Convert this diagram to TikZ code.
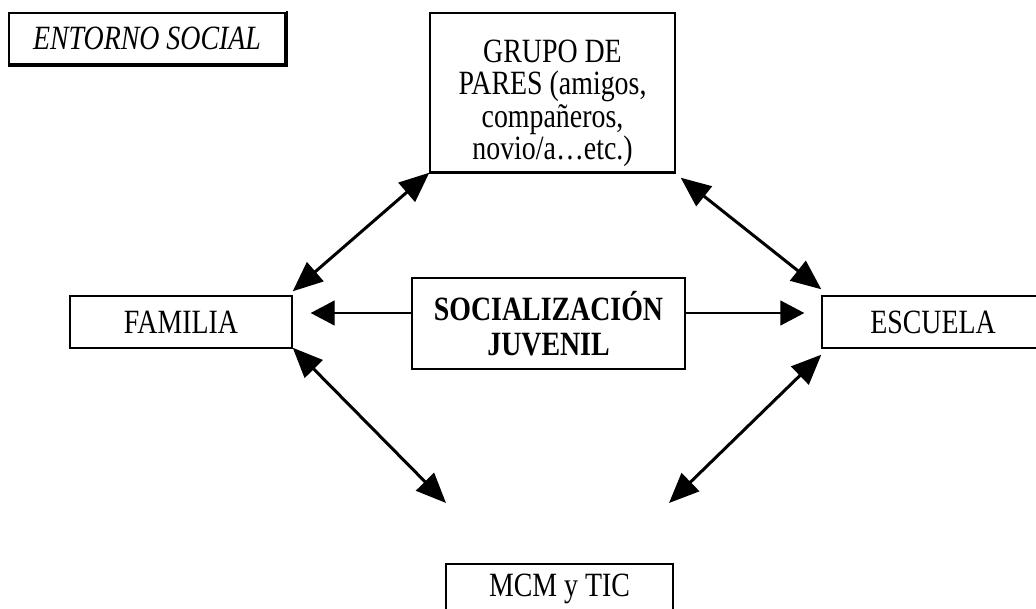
\documentclass[tikz,border=0pt]{standalone}
\usepackage{fontspec}
\setmainfont[FakeStretch=0.82]{Liberation Serif}
\usetikzlibrary{arrows.meta,calc}
\begin{document}
\begin{tikzpicture}[x=1pt,y=-1pt,
  box/.style={draw,line width=1.4pt,inner sep=0pt,align=center,font=\fontsize{34}{32}\selectfont},
  txt/.style={inner sep=0pt,align=center,font=\fontsize{34}{32.5}\selectfont},
  dbl/.style={line width=3pt,{Triangle[length=30pt,width=25pt]}-{Triangle[length=30pt,width=25pt]}},
  sgl/.style={line width=1.4pt,-{Triangle[length=24pt,width=25pt]}}]
\useasboundingbox (0,0) rectangle (1036,608);
\node[box,minimum width=276pt,minimum height=51pt,font=\fontsize{34}{32}\selectfont\itshape] (ent) at (147,38.5) {ENTORNO SOCIAL};
\draw[line width=2.4pt] ([xshift=1pt,yshift=1pt]ent.north east) -- ([xshift=1pt,yshift=-1pt]ent.south east) -- ([yshift=-1pt]ent.south west);
\node[box,minimum width=245pt,minimum height=159pt] (grupo) at (552.5,92.5) {};
\node[txt] (grupotxt) at ([yshift=-11pt]grupo.center) {GRUPO DE\\PARES (amigos,\\compañeros,\\novio/a\ldots etc.)};
\draw[line width=3pt] (grupo.south west) -- (grupo.south east);
\node[box,minimum width=222pt,minimum height=52pt] (fam) at (181,322) {FAMILIA};
\node[box,minimum width=273pt,minimum height=91pt,font=\fontsize{34}{35}\selectfont\bfseries] (soc) at (548.5,323.5) {SOCIALIZACIÓN\\JUVENIL};
\node[box,minimum width=222pt,minimum height=52pt] (esc) at (933,322) {ESCUELA};
\node[box,minimum width=227pt,minimum height=56pt] (mcm) at (559.5,592) {};
\node[txt] (mcmtxt) at ([yshift=3pt]mcm.center) {MCM y TIC};
\coordinate (ml) at (446,503);
\coordinate (mr) at (669,503);
\draw[dbl] (grupo.south west) -- ([yshift=4pt]fam.north east);
\draw[dbl] ([xshift=5pt,yshift=-5pt]grupo.south east) -- ([yshift=6pt]esc.north west);
\draw[dbl] ([yshift=1pt]fam.south east) -- (ml);
\draw[dbl] ([yshift=-6pt]esc.south west) -- (mr);
\draw[sgl] ([yshift=10.5pt]soc.west) -- ([xshift=18pt,yshift=9pt]fam.east);
\draw[sgl] ([yshift=10.5pt]soc.east) -- ([xshift=-17pt,yshift=9pt]esc.west);
\end{tikzpicture}
\end{document}
